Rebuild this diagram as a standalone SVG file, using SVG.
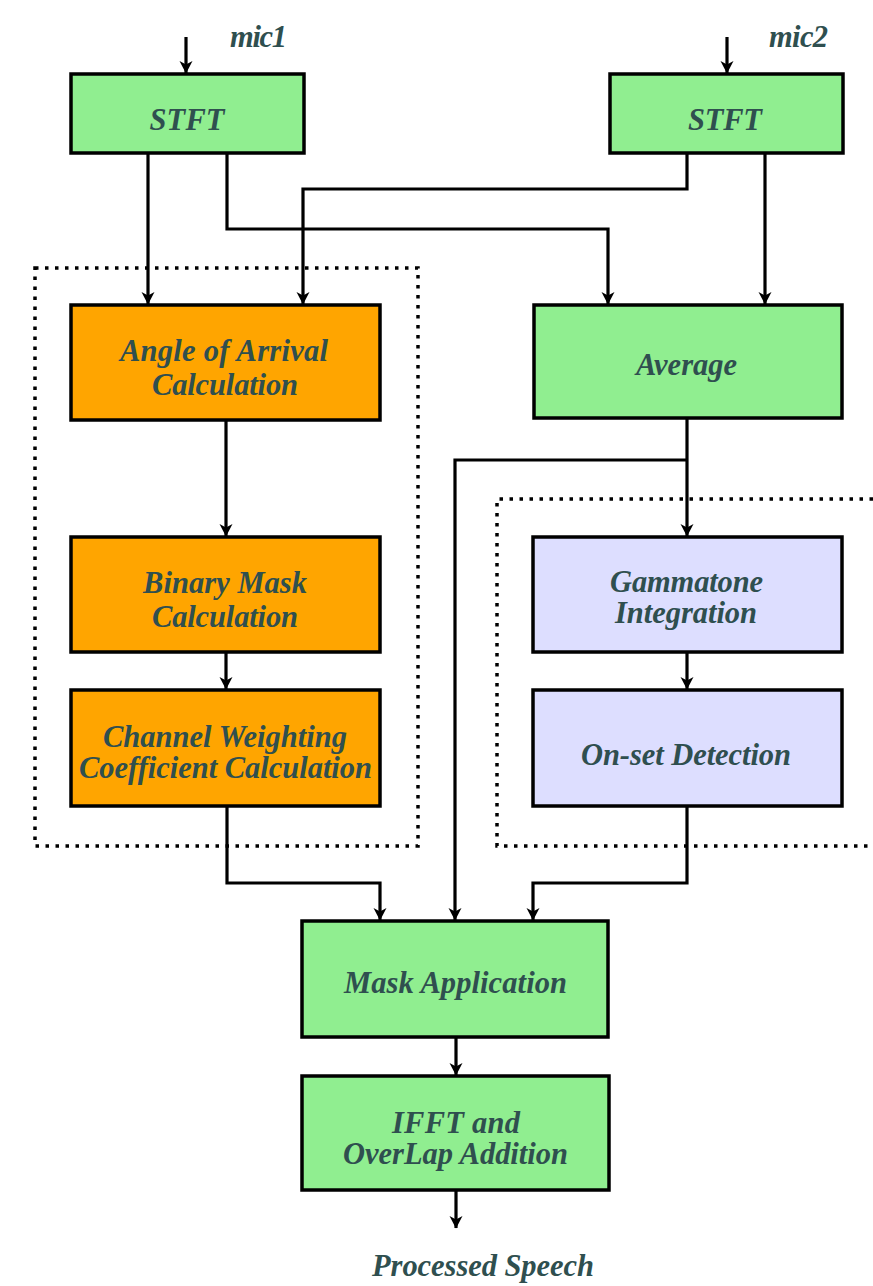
<svg xmlns="http://www.w3.org/2000/svg" width="873" height="1286" viewBox="0 0 873 1286">
<style>
.box{stroke:#000;stroke-width:3.5}
.g{fill:#90EE90}
.o{fill:#FFA500}
.l{fill:#DDDEFF}
.t{font-family:'Liberation Serif','Times New Roman','DejaVu Serif',serif;font-weight:700;font-style:italic;font-size:30.5px;fill:#2F4F4F;text-anchor:middle}
.c{fill:none;stroke:#000;stroke-width:3.2;marker-end:url(#ah)}
.d{fill:none;stroke:#000;stroke-width:3.5;stroke-dasharray:3.5 6.5}
</style>
<defs>
<marker id="ah" markerWidth="16" markerHeight="16" refX="13" refY="8" orient="auto" markerUnits="userSpaceOnUse">
<path d="M1,1.5 L13.5,8 L1,14.5 L4.5,8 Z" fill="#000"/>
</marker>
</defs>
<rect width="873" height="1286" fill="#fff"/>
<g id="groups">
<path class="d" d="M35,268 H418 V846 H35 Z"/>
<path class="d" d="M873,499 H497 V846 H873"/>
</g>
<g id="connectors">
<path class="c" d="M186,37 V73"/>
<path class="c" d="M727,37 V73"/>
<path class="c" d="M148,153 V304"/>
<path class="c" d="M227,153 V229 H608 V304"/>
<path class="c" d="M687,153 V189 H303 V304"/>
<path class="c" d="M765,153 V304"/>
<path class="c" d="M226,420 V536"/>
<path class="c" d="M226,652 V689"/>
<path class="c" d="M687,418 V536"/>
<path class="c" d="M687,460 H455 V920"/>
<path class="c" d="M687,652 V689"/>
<path class="c" d="M227,806 V883 H380 V920"/>
<path class="c" d="M687,806 V883 H533 V920"/>
<path class="c" d="M456,1037 V1075"/>
<path class="c" d="M456,1190 V1228"/>
</g>
<g id="mic1"><text class="t" x="258.5" y="47" textLength="57">mic1</text></g>
<g id="mic2"><text class="t" x="798.5" y="47" textLength="59">mic2</text></g>
<g id="stft1"><rect class="box g" x="71" y="74" width="233" height="79"/><text class="t" x="187" y="130" textLength="75">STFT</text></g>
<g id="stft2"><rect class="box g" x="610" y="74" width="233" height="79"/><text class="t" x="725" y="130" textLength="74">STFT</text></g>
<g id="aoa"><rect class="box o" x="71" y="305" width="309" height="115"/><text class="t" x="224" y="361" textLength="208">Angle of Arrival</text><text class="t" x="225" y="395" textLength="146">Calculation</text></g>
<g id="average"><rect class="box g" x="534" y="305" width="308" height="113"/><text class="t" x="686.5" y="375" textLength="101">Average</text></g>
<g id="binmask"><rect class="box o" x="71" y="537" width="309" height="115"/><text class="t" x="225" y="593" textLength="164">Binary Mask</text><text class="t" x="225" y="627" textLength="146">Calculation</text></g>
<g id="cwc"><rect class="box o" x="71" y="690" width="309" height="116"/><text class="t" x="225" y="747" textLength="244">Channel Weighting</text><text class="t" x="225.5" y="778" textLength="293">Coefficient Calculation</text></g>
<g id="gammatone"><rect class="box l" x="533" y="537" width="309" height="115"/><text class="t" x="686.5" y="592" textLength="153">Gammatone</text><text class="t" x="686" y="623" textLength="142">Integration</text></g>
<g id="onset"><rect class="box l" x="533" y="690" width="309" height="116"/><text class="t" x="686" y="765" textLength="210">On-set Detection</text></g>
<g id="mask"><rect class="box g" x="302" y="921" width="306" height="116"/><text class="t" x="455.5" y="993" textLength="223">Mask Application</text></g>
<g id="ifft"><rect class="box g" x="302" y="1076" width="307" height="114"/><text class="t" x="456" y="1133" textLength="128">IFFT and</text><text class="t" x="455.5" y="1164" textLength="225">OverLap Addition</text></g>
<g id="output"><text class="t" x="483" y="1276" textLength="222">Processed Speech</text></g>
</svg>
